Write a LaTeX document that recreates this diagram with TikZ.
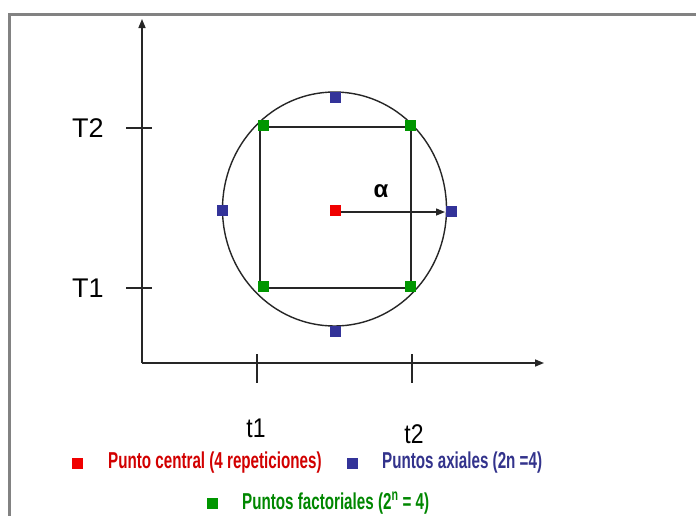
\documentclass[tikz,border=0pt]{standalone}
\usepackage{fontspec}
\setmainfont{Liberation Sans}
\usetikzlibrary{arrows.meta}
\definecolor{mkred}{RGB}{240,0,0}
\definecolor{mkblue}{RGB}{51,51,153}
\definecolor{mkgreen}{RGB}{0,150,0}
\definecolor{txred}{RGB}{210,0,0}
\definecolor{txblue}{RGB}{51,51,140}
\definecolor{txgreen}{RGB}{0,135,0}
\definecolor{framegray}{RGB}{130,130,130}
\tikzset{
  mk/.style={rectangle, minimum size=11pt, inner sep=0pt, draw=none},
  axis/.style={line width=1.5pt, draw=black!85, -{Triangle[length=9pt,width=7pt]}},
  tick/.style={line width=1.3pt, draw=black!85},
  lbl/.style={font=\fontsize{27}{27}\selectfont, inner sep=0pt, text=black},
  leg/.style={font=\fontsize{23}{23}\selectfont\bfseries, inner sep=0pt, anchor=west},
  shape line/.style={line width=1.4pt, draw=black!85}
}
\begin{document}
\begin{tikzpicture}[x=1pt,y=-1pt]
\useasboundingbox (0,0) rectangle (696,515);
\fill[white] (0,0) rectangle (696,515);
% frame
\draw[framegray, line width=3pt] (9,518) -- (9,14) -- (699,14);
% axes
\coordinate (O) at (142,363);
\coordinate (Ytop) at (142,19);
\coordinate (Xend) at (544,363);
\draw[axis] (O) -- (Ytop);
\draw[axis] (O) -- (Xend);
% ticks
\coordinate (tT2a) at (126,128); \coordinate (tT2b) at (152,128);
\coordinate (tT1a) at (126,288); \coordinate (tT1b) at (152,288);
\coordinate (tt1a) at (257,354); \coordinate (tt1b) at (257,383);
\coordinate (tt2a) at (412,354); \coordinate (tt2b) at (412,383);
\draw[tick] (tT2a) -- (tT2b);
\draw[tick] (tT1a) -- (tT1b);
\draw[tick] (tt1a) -- (tt1b);
\draw[tick] (tt2a) -- (tt2b);
\node[lbl] (T2) at (88,128) {T2};
\node[lbl] (T1) at (88,288) {T1};
\node[lbl] (t1) at (256,428) {\scalebox{0.85}[1]{t1}};
\node[lbl] (t2) at (414,434) {\scalebox{0.85}[1]{t2}};
% circle
\draw[shape line] (334.5,209) ellipse [x radius=112, y radius=117];
% square
\coordinate (s1) at (260,127);
\coordinate (s2) at (411,127);
\coordinate (s3) at (411,288);
\coordinate (s4) at (260,288);
\draw[shape line] (s1) -- (s2) -- (s3) -- (s4) -- cycle;
% markers
\node[mk, fill=mkgreen] (f1) at (263,125) {};
\node[mk, fill=mkgreen] (f2) at (410,125) {};
\node[mk, fill=mkgreen] (f3) at (410,286) {};
\node[mk, fill=mkgreen] (f4) at (263,286) {};
\node[mk, fill=mkblue] (a1) at (335,97) {};
\node[mk, fill=mkblue] (a2) at (222,210) {};
\node[mk, fill=mkblue] (a3) at (335,331) {};
\node[mk, fill=mkblue] (a4) at (451,211) {};
\node[mk, fill=mkred] (c) at (335,210) {};
\draw[line width=1.4pt, black!85, -{Triangle[length=9pt,width=7pt]}] (c.east |- 0,212) -- (445,212);
\node[font=\fontsize{24}{24}\selectfont\bfseries, inner sep=0pt] (alpha) at (381,191) {α};
% legend
\node[mk, fill=mkred] (lr) at (77,463) {};
\node[leg, text=txred] (lrt) at (108,463) {\scalebox{0.66}[1]{Punto central (4 repeticiones)}};
\node[mk, fill=mkblue] (lb) at (352,463) {};
\node[leg, text=txblue] (lbt) at (382,463) {\scalebox{0.66}[1]{Puntos axiales (2n =4)}};
\node[mk, fill=mkgreen] (lg) at (212,503) {};
\node[leg, text=txgreen] (lgt) at (242,503) {\scalebox{0.66}[1]{Puntos factoriales (2\textsuperscript{n} = 4)}};
\end{tikzpicture}
\end{document}
